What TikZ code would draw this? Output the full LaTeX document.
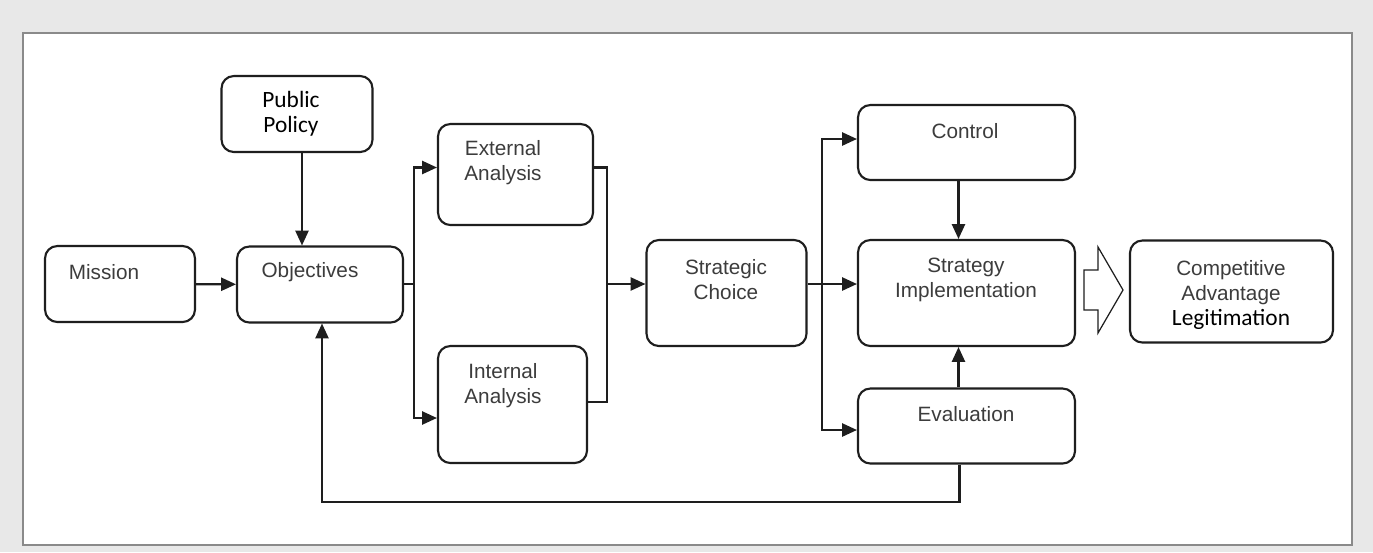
\documentclass[tikz,border=0pt]{standalone}
\usepackage{fontspec}
\setmainfont{Liberation Sans}
\newfontfamily\calibri{Carlito}
\usepackage{xcolor}
\usetikzlibrary{calc,arrows.meta,positioning}
\definecolor{SMPaper}{HTML}{E8E8E8}
\definecolor{SMFrame}{HTML}{8A8A8A}
\definecolor{SMInk}{HTML}{1E1E1E}
\definecolor{SMText}{HTML}{3C3C3C}

\tikzset{
  stage/.style={draw=SMInk, line width=1.2pt, rounded corners=7pt, fill=white},
  lbl/.style={text=SMText, align=center, inner sep=0pt,
    font=\fontsize{11.8}{14.2}\selectfont},
  cal/.style={text=black, align=center, inner sep=0pt,
    font=\calibri\fontsize{13.3}{14.2}\selectfont},
  link/.style={draw=SMInk, line width=1.2pt},
  flow/.style={link, -{Triangle[length=8.5pt,width=7.5pt]}},
}

\begin{document}
\begin{tikzpicture}[x=0.02cm, y=-0.02cm]
\useasboundingbox (0,0) rectangle (1373,552);
\fill[SMPaper] (0,0) rectangle (1373,552);
\draw[SMFrame, fill=white, line width=0.7pt] (23,33) rectangle (1352,545);

% boxes
\node[stage, minimum width=3.02cm, minimum height=1.52cm] (pubpol) at (297,114) {};
\node[stage, minimum width=3cm, minimum height=1.52cm] (mission) at (120,284) {};
\node[stage, minimum width=3.32cm, minimum height=1.52cm] (objectives) at (320,284.5) {};
\node[stage, minimum width=3.1cm, minimum height=2.02cm] (external) at (515.5,174.5) {};
\node[stage, minimum width=2.98cm, minimum height=2.34cm] (internal) at (512.5,404.5) {};
\node[stage, minimum width=3.2cm, minimum height=2.12cm] (choice) at (726.5,293) {};
\node[stage, minimum width=4.34cm, minimum height=1.5cm] (control) at (966.5,142.5) {};
\node[stage, minimum width=4.34cm, minimum height=2.12cm] (implem) at (966.5,293) {};
\node[stage, minimum width=4.34cm, minimum height=1.5cm] (evaluation) at (966.5,426) {};
\node[stage, minimum width=4.06cm, minimum height=2.04cm] (advantage) at (1231.5,291.5) {};

% texts
\node[cal] (pubpol-t) at (291,114) {Public\\Policy};
\node[lbl] (mission-t) at (104,272) {Mission};
\node[lbl] (objectives-t) at (310,272) {Objectives};
\node[lbl] (external-t) at (503,163) {External\\Analysis};
\node[lbl] (internal-t) at (503,386) {Internal\\Analysis};
\node[lbl] (choice-t) at (726,280) {Strategic\\Choice};
\node[lbl] (control-t) at (965,131) {Control};
\node[lbl] (implem-t) at (966,280) {Strategy\\Implementation};
\node[lbl] (evaluation-t) at (966,414) {Evaluation};
\node[lbl] (advantage-t) at (1231,295) {Competitive\\Advantage\\{\calibri\fontsize{13.3}{14.2}\selectfont\color{black}Legitimation}};

% connectors
\coordinate (split) at (414,284);
\coordinate (join) at (607,284);
\coordinate (branch) at (822,284);
\draw[flow] (mission) -- (objectives);
\draw[flow] ($(pubpol.south)+(5,0)$) -- ($(pubpol.south |- objectives.north)+(5,0)$);
\draw[link] (objectives.east |- split) -- (split);
\draw[flow] (split) |- ($(external.west)+(0,-7)$);
\draw[flow] (split) |- ($(internal.west)+(0,13.5)$);
\draw[link] ($(external.east)+(0,-7)$) -| (join);
\draw[link] ($(internal.east)+(0,-2.5)$) -| (join);
\draw[flow] (join) -- (join -| choice.west);
\draw[flow] (choice.east |- branch) -- (implem.west |- branch);
\draw[flow] (branch) |- ($(control.west)+(0,-3.5)$);
\draw[flow] (branch) |- ($(evaluation.west)+(0,4)$);
\draw[flow] ($(control.south)+(-8,0)$) -- ($(implem.north)+(-8,0)$);
\draw[flow] ($(evaluation.north)+(-8,0)$) -- ($(implem.south)+(-8,0)$);
\draw[flow] ($(evaluation.south)+(-7,0)$) -- ++(0,37) -| ($(objectives.south)+(2,0)$);

% hollow arrow
\draw[SMInk, line width=0.7pt, line join=miter]
  (1084,270) -- (1098,270) -- (1098,247) -- (1123,290) -- (1098,333)
  -- (1098,310) -- (1084,310) -- cycle;
\end{tikzpicture}
\end{document}
